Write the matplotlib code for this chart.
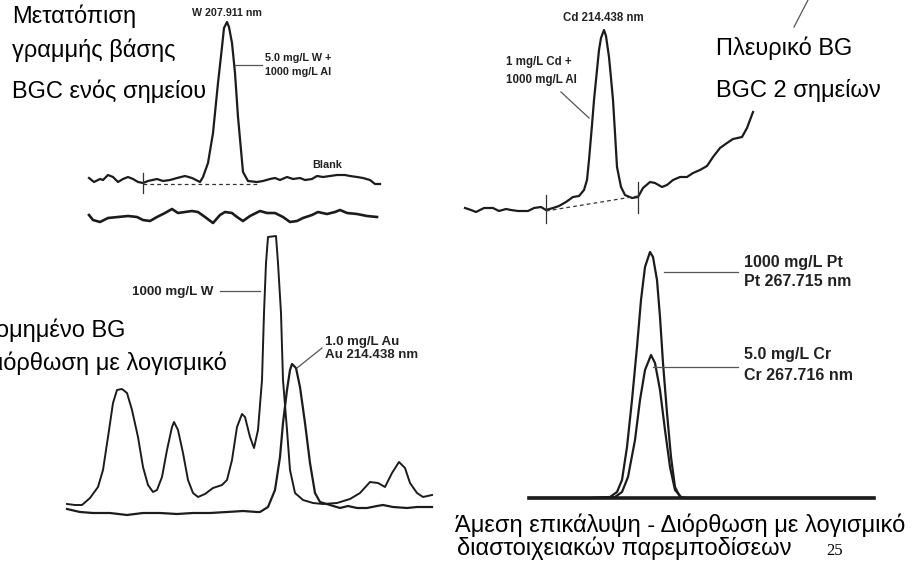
import matplotlib.pyplot as plt

plt.rcParams['font.family'] = ['Liberation Sans', 'DejaVu Sans']

# ---- panel 1: W 207.911 nm, baseline shift (one-point BGC)
w_x = [9, 14, 20, 23, 28, 33, 38, 43, 48, 53, 58, 63, 68, 77, 83, 90, 97, 105, 112, 120,
       123, 128, 133, 138, 142, 144, 147, 149, 152, 155, 158, 161, 163, 168, 177, 183, 190,
       195, 200, 207, 213, 220, 225, 232, 237, 243, 250, 257, 265, 270, 277, 283, 290, 295, 300]
w_y = [52, 48, 51, 50, 55, 53, 48, 51, 53, 51, 48, 47, 49, 51, 49, 50, 52, 54, 52, 48,
       53, 67, 97, 147, 183, 202, 208, 203, 187, 157, 113, 80, 58, 49, 48, 49, 51,
       52, 50, 53, 51, 52, 50, 51, 54, 53, 54, 55, 55, 54, 53, 52, 50, 46, 46]
blank_x = [9, 13, 20, 28, 38, 48, 57, 63, 70, 77, 85, 92, 98, 105, 112, 118, 125, 133, 140, 145,
           152, 157, 163, 170, 180, 187, 195, 203, 210, 217, 223, 232, 238, 247, 255, 260, 267,
           277, 287, 297]
blank_y = [15, 10, 8, 12, 13, 14, 13, 10, 9, 13, 17, 21, 17, 18, 19, 18, 13, 7, 15, 18,
           17, 13, 9, 14, 19, 17, 17, 13, 8, 9, 12, 15, 18, 16, 18, 20, 17,
           16, 14, 13]
w_bg_x = [63, 177]
w_bg_y = [46, 46]

# ---- panel 2: Cd 214.438 nm, sloping background (two-point BGC)
cd_x = [5, 11, 16, 24, 33, 39, 46, 51, 58, 68, 74, 81, 86, 93, 99, 106, 113, 119, 124, 127,
        129, 132, 134, 136, 139, 141, 144, 146, 149, 151, 153, 155, 157, 161, 165, 172, 178,
        183, 190, 195, 202, 207, 213, 220, 227, 233, 240, 247, 253, 260, 267, 273, 282, 287, 293]
cd_y = [22, 20, 18, 22, 22, 19, 21, 20, 19, 19, 22, 23, 20, 22, 24, 28, 33, 34, 40, 50,
        70, 105, 130, 150, 180, 192, 200, 194, 173, 152, 130, 97, 63, 43, 35, 32, 33,
        42, 48, 47, 43, 45, 50, 53, 53, 57, 60, 64, 73, 82, 87, 91, 93, 102, 118]
cd_bg_x = [86, 178]
cd_bg_y = [19, 34]

# ---- panel 3: 1000 mg/L W and 1.0 mg/L Au (structured background)
w3_x = [7, 15, 22, 30, 38, 43, 48, 53, 57, 62, 67, 72, 78, 83, 88, 93, 97, 102, 107, 112,
        114, 118, 123, 128, 133, 138, 145, 153, 162, 167, 172, 177, 182, 185, 190, 194, 198,
        202, 204, 206, 208, 216, 218, 221, 223, 227, 230, 235, 243, 253, 263, 277, 290, 300,
        310, 318, 325, 332, 339, 345, 350, 357, 363, 372]
w3_y = [16, 15, 15, 22, 33, 50, 83, 117, 130, 131, 127, 110, 83, 53, 35, 28, 30, 43, 70, 93,
        98, 90, 67, 40, 27, 23, 26, 32, 35, 40, 60, 93, 106, 103, 83, 72, 90,
        140, 207, 257, 283, 284, 257, 207, 140, 90, 50, 27, 20, 17, 16, 17, 21, 27,
        38, 37, 33, 47, 58, 52, 37, 27, 23, 25]
au_x = [7, 20, 33, 50, 67, 83, 100, 117, 133, 150, 167, 183, 197, 200, 208, 215, 220, 223, 227,
        230, 232, 236, 240, 245, 250, 255, 260, 270, 280, 288, 297, 307, 317, 323, 333, 347,
        357, 372]
au_y = [11, 8, 7, 7, 5, 7, 7, 6, 7, 7, 8, 9, 8, 8, 13, 30, 63, 97, 130,
        150, 156, 152, 133, 97, 57, 27, 18, 15, 12, 14, 12, 12, 14, 15, 13, 12,
        13, 13]

# ---- panel 4: 1000 mg/L Pt and 5.0 mg/L Cr (direct overlap)
pt_x = [9, 40, 70, 90, 97, 102, 107, 112, 117, 121, 125, 130, 133, 137, 140, 143, 147, 151,
        155, 160, 167, 220, 290, 354]
pt_y = [12, 12, 12, 13, 18, 30, 63, 110, 163, 210, 243, 258, 253, 230, 193, 147, 97, 53,
        23, 13, 12, 12, 12, 12]
cr_x = [9, 40, 70, 95, 102, 108, 115, 120, 125, 131, 135, 140, 145, 150, 155, 162, 220, 290, 354]
cr_y = [12, 12, 12, 13, 18, 33, 70, 110, 140, 155, 147, 120, 80, 43, 20, 12, 12, 12, 12]

W, H = 922, 564
fig = plt.figure(figsize=(W / 100, H / 100), dpi=100)


def panel(left, bottom, width, height):
    ax = fig.add_axes([left / W, 1 - bottom / H, width / W, height / H])
    ax.set_xlim(0, width)
    ax.set_ylim(0, height)
    ax.axis('off')
    return ax


def ftext(x, y, s, **kw):
    fig.text(x / W, 1 - y / H, s, **kw)


ink = '#1c1c1c'
lead = '#555555'
lab = dict(fontweight='bold', color='#222222', va='center')

# panel 1
ax1 = panel(80, 230, 310, 230)
ax1.plot(w_x, w_y, color=ink, lw=1.6)
ax1.plot(blank_x, blank_y, color=ink, lw=1.9)
ax1.plot(w_bg_x, w_bg_y, color='#333333', lw=0.9, dashes=(3, 2.5))
ax1.plot([63, 63], [37, 57], color='#333333', lw=0.9)
ax1.text(147, 217, 'W 207.911 nm', ha='center', fontsize=7.7, **lab)
ax1.plot([155, 182], [165, 165], color=lead, lw=0.9)
ax1.text(185, 172, '5.0 mg/L W +', ha='left', fontsize=7.8, **lab)
ax1.text(185, 158, '1000 mg/L Al', ha='left', fontsize=7.8, **lab)
ax1.text(247, 65, 'Blank', ha='center', fontsize=7.8, **lab)

# panel 2
ax2 = panel(460, 230, 462, 230)
ax2.plot(cd_x, cd_y, color=ink, lw=1.6)
ax2.plot(cd_bg_x, cd_bg_y, color='#333333', lw=0.9, dashes=(3, 2.5))
ax2.plot([86, 86], [7, 35], color='#333333', lw=0.9)
ax2.plot([178, 178], [17, 48], color='#333333', lw=0.9)
ax2.text(143, 212, 'Cd 214.438 nm', ha='center', fontsize=8.3, **lab)
ax2.text(46, 168, '1 mg/L Cd +', ha='left', fontsize=8.3, **lab)
ax2.text(46, 150, '1000 mg/L Al', ha='left', fontsize=8.3, **lab)
ax2.plot([101, 129], [138, 112], color=lead, lw=0.9)
ax2.plot([334, 348], [203, 230], color=lead, lw=0.9, clip_on=False)

# panel 3
ax3 = panel(60, 520, 380, 290)
ax3.plot(w3_x, w3_y, color=ink, lw=1.4)
ax3.plot(au_x, au_y, color=ink, lw=1.6)
ax3.text(72, 228, '1000 mg/L W', ha='left', fontsize=9.6, **lab)
ax3.plot([160, 200], [229, 229], color=lead, lw=0.9)
ax3.text(265, 178, '1.0 mg/L Au', ha='left', fontsize=9.5, **lab)
ax3.text(265, 165, 'Au 214.438 nm', ha='left', fontsize=9.5, **lab)
ax3.plot([237, 262], [152, 172], color=lead, lw=0.9)

# panel 4
ax4 = panel(520, 510, 400, 280)
ax4.plot(pt_x, pt_y, color=ink, lw=1.6)
ax4.plot(cr_x, cr_y, color=ink, lw=1.6)
ax4.plot([9, 354], [12, 12], color=ink, lw=2.6)
ax4.plot([144, 218], [238, 238], color=lead, lw=0.9)
ax4.plot([133, 218], [143, 143], color=lead, lw=0.9)
ax4.text(224, 247, '1000 mg/L Pt', ha='left', fontsize=11.5, **lab)
ax4.text(224, 228, 'Pt 267.715 nm', ha='left', fontsize=11.5, **lab)
ax4.text(224, 155, '5.0 mg/L Cr', ha='left', fontsize=11.5, **lab)
ax4.text(224, 135, 'Cr 267.716 nm', ha='left', fontsize=11.5, **lab)

# slide captions
cap = dict(fontsize=17, color='#000000', va='baseline')
ftext(12, 23, 'Μετατόπιση', ha='left', **cap)
ftext(12, 57, 'γραμμής βάσης', ha='left', **cap)
ftext(12, 98, 'BGC ενός σημείου', ha='left', **cap)
ftext(716, 55, 'Πλευρικό BG', ha='left', **cap)
ftext(716, 97, 'BGC 2 σημείων', ha='left', **cap)
ftext(125, 337, 'Δομημένο BG', ha='right', **cap)
ftext(227, 370, 'Διόρθωση με λογισμικό', ha='right', **cap)
ftext(455, 532, 'Άμεση επικάλυψη - Διόρθωση με λογισμικό', ha='left', **cap)
ftext(457, 555, 'διαστοιχειακών παρεμποδίσεων', ha='left', **cap)
ftext(826, 555, '25', ha='left', va='baseline', fontsize=12, family='Liberation Serif')

fig.savefig('out.png', dpi=100)
